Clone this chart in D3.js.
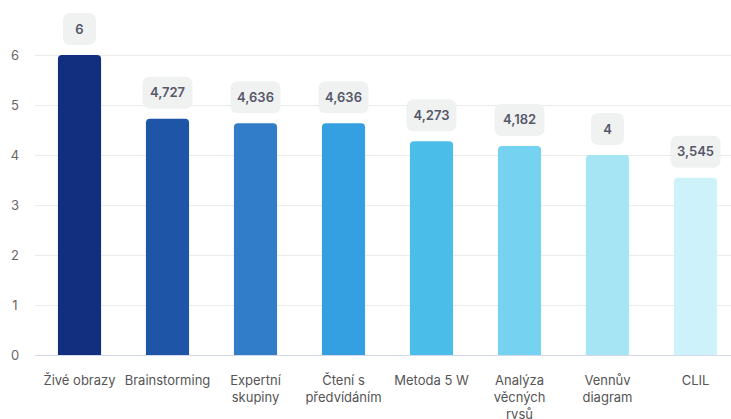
<!DOCTYPE html>
<html><head><meta charset="utf-8">
<script src="https://cdn.jsdelivr.net/npm/d3@7"></script>
<style>body{margin:0;background:#fff;overflow:hidden}svg{display:block;font-family:Inter,"Noto Sans",sans-serif}</style>
</head><body><svg id="c" width="731" height="419"></svg>
<script>
const categories = ["Živé obrazy","Brainstorming","Expertní skupiny","Čtení s předvídáním","Metoda 5 W","Analýza věcných rysů","Vennův diagram","CLIL"];
const labelLines = [["Živé obrazy"],["Brainstorming"],["Expertní","skupiny"],["Čtení s","předvídáním"],["Metoda 5 W"],["Analýza","věcných","rysů"],["Vennův","diagram"],["CLIL"]];
const values = [6, 4.727, 4.636, 4.636, 4.273, 4.182, 4, 3.545];
const valueLabels = ["6","4,727","4,636","4,636","4,273","4,182","4","3,545"];
const colors = ["#122E7F","#1E55A6","#317DCA","#35A0E1","#4ABDE9","#75D3F1","#A6E5F4","#CEF2FA"];
const yTicks = [0,1,2,3,4,5,6];

const svg = d3.select("#c");
const x = d3.scaleBand().domain(categories).range([35.5, 739.5]).paddingInner(0.51).paddingOuter(0.255);
const y = d3.scaleLinear().domain([0, 6]).range([355, 55]);

// grid
svg.append("g").selectAll("line").data(yTicks).join("line")
  .attr("x1", 35).attr("x2", 731)
  .attr("y1", d => y(d)+0.5).attr("y2", d => y(d)+0.5)
  .attr("stroke", d => d === 0 ? "#d3d8ea" : "#ebebeb").attr("stroke-width", 1);
svg.append("g").selectAll("text").data(yTicks).join("text")
  .attr("x", 15).attr("y", d => y(d)).attr("dy", "0.35em")
  .attr("text-anchor", "middle").attr("font-size", 13).attr("fill", "#666")
  .text(d => d);

// bars with rounded top
const r = 4;
svg.append("g").selectAll("path").data(values).join("path")
  .attr("fill", (d,i) => colors[i])
  .attr("d", (d,i) => {
    const x0 = x(categories[i]), w = x.bandwidth(), y0 = y(d), yb = y(0);
    return `M${x0},${yb}V${y0+r}Q${x0},${y0} ${x0+r},${y0}H${x0+w-r}Q${x0+w},${y0} ${x0+w},${y0+r}V${yb}Z`;
  });

// value labels
const lg = svg.append("g").selectAll("g").data(values).join("g")
  .attr("transform", (d,i) => `translate(${x(categories[i]) + x.bandwidth()/2},${y(d) - 26})`);
lg.append("rect")
  .attr("x", (d,i) => -(valueLabels[i].length > 1 ? 25 : 16.5))
  .attr("width", (d,i) => valueLabels[i].length > 1 ? 50 : 33)
  .attr("y", -16).attr("height", 32).attr("rx", 7)
  .attr("fill", "#f0f1f1");
lg.append("text").attr("text-anchor", "middle").attr("dy", "0.35em")
  .attr("font-size", 13).attr("font-weight", 600).attr("fill", "#555868")
  .text((d,i) => valueLabels[i]);

// category labels
const cg = svg.append("g").selectAll("text").data(categories).join("text")
  .attr("x", d => x(d) + x.bandwidth()/2).attr("y", 385)
  .attr("text-anchor", "middle").attr("font-size", 13).attr("fill", "#555");
cg.selectAll("tspan").data((d,i) => labelLines[i]).join("tspan")
  .attr("x", function(){ return this.parentNode.getAttribute("x"); })
  .attr("dy", (d,j) => j === 0 ? 0 : 17)
  .text(d => d);
</script></body></html>
